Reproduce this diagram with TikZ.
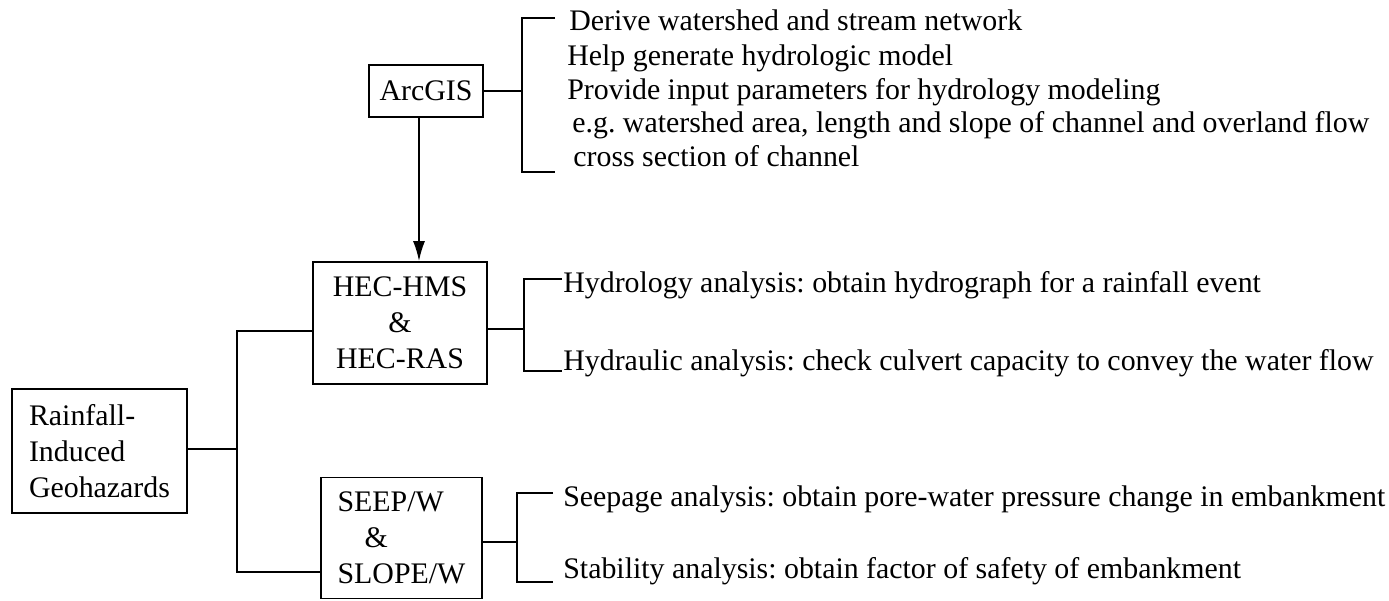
\documentclass[tikz,border=0pt]{standalone}
\usepackage{fontspec}
\setmainfont{Liberation Serif}
\frenchspacing
\usetikzlibrary{positioning,arrows.meta,calc}
\tikzset{
    flow_box/.style={draw, line width=1pt, inner sep=0pt, align=center, font=\fontsize{17}{20.5}\selectfont},
    flow_note/.style={anchor=base west, inner sep=0pt, font=\fontsize{17}{19}\selectfont},
    flow_line/.style={line width=1pt},
    flow_arrow/.style={line width=1pt, -{Latex[length=0.4cm, width=0.24cm]}},
}
\begin{document}
\begin{tikzpicture}[x=0.02cm, y=-0.02cm]
    \useasboundingbox (0,0) rectangle (1389,601);
    % Tools and hazard boxes
    \node[flow_box, minimum width=2.28cm, minimum height=1.04cm] (arcgis) at (426,91) {ArcGIS};
    \node[flow_box, minimum width=3.48cm, minimum height=2.44cm] (hec) at (400,323) {HEC-HMS\\\&\\HEC-RAS};
    \node[flow_box, align=left, minimum width=3.5cm, minimum height=2.48cm] (rain) at (99.5,451) {Rainfall-\\Induced\\Geohazards};
    \node[flow_box, align=left, minimum width=3.22cm, minimum height=2.42cm] (seep) at (401.5,538) {SEEP/W\\\hspace*{0.54cm}\&\\SLOPE/W};

    % ArcGIS tasks
    \node[flow_note] (arc_t1) at (569,31)  {Derive watershed and stream network};
    \node[flow_note] (arc_t2) at (567,66)  {Help generate hydrologic model};
    \node[flow_note] (arc_t3) at (567,100) {Provide input parameters for hydrology modeling};
    \node[flow_note] (arc_t4) at (572,133) {e.g. watershed area, length and slope of channel and overland flow};
    \node[flow_note] (arc_t5) at (573,167) {cross section of channel};
    \coordinate (arc_top) at (555,18);
    \coordinate (arc_bot) at (555,172);
    \coordinate (arc_brk) at (522,91);
    \draw[flow_line] (arcgis.east |- arc_brk) -- (arc_brk);
    \draw[flow_line] (arc_top) -| (arc_brk) |- (arc_bot);

    % HEC tasks
    \node[flow_note] (hec_t1) at (563,293) {Hydrology analysis: obtain hydrograph for a rainfall event};
    \node[flow_note] (hec_t2) at (563,370) {Hydraulic analysis: check culvert capacity to convey the water flow};
    \coordinate (hec_top) at (562,279);
    \coordinate (hec_bot) at (562,371);
    \coordinate (hec_brk) at (524,329);
    \draw[flow_line] (hec.east |- hec_brk) -- (hec_brk);
    \draw[flow_line] (hec_top) -| (hec_brk) |- (hec_bot);

    % GeoStudio tasks
    \node[flow_note] (seep_t1) at (563,506) {Seepage analysis: obtain pore-water pressure change in embankment};
    \node[flow_note] (seep_t2) at (563,578) {Stability analysis: obtain factor of safety of embankment};
    \coordinate (seep_top) at (553,493);
    \coordinate (seep_bot) at (553,582);
    \coordinate (seep_brk) at (517,542);
    \draw[flow_line] (seep.east |- seep_brk) -- (seep_brk);
    \draw[flow_line] (seep_top) -| (seep_brk) |- (seep_bot);

    % Trunk from hazards
    \coordinate (trunk) at (237,449);
    \coordinate (hec_in) at (237,331);
    \coordinate (seep_in) at (237,572);
    \draw[flow_line] (rain.east |- trunk) -- (trunk);
    \draw[flow_line] (hec.west |- hec_in) -- (hec_in) -- (seep_in) -- (seep.west |- seep_in);

    % ArcGIS feeds HEC
    \draw[flow_arrow] ([xshift=-0.14cm]arcgis.south) -- ([xshift=-0.14cm]arcgis.south |- hec.north);
\end{tikzpicture}
\end{document}
